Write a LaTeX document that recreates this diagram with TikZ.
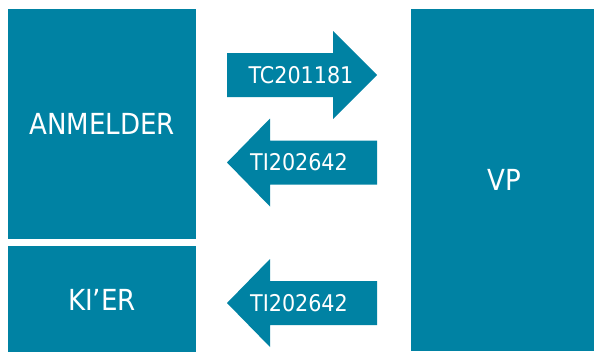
\documentclass[tikz,border=0pt]{standalone}
\usepackage{fontspec}
\setmainfont{DejaVu Sans Condensed}
\definecolor{vpteal}{HTML}{0082A3}
\tikzset{
  blok/.style={fill=vpteal, text=white, inner sep=0pt, font=\fontsize{29}{34}\selectfont},
  pijltxt/.style={text=white, inner sep=0pt, font=\fontsize{23}{27}\selectfont}
}
\begin{document}
\begin{tikzpicture}[x=1pt, y=-1pt, line join=round]
\def\ta{227} \def\tb{377} \def\kop{333} % pijl: staart, punt, kop
\useasboundingbox (0,0) rectangle (594,351);
\clip (0,0) rectangle (594,351);
% blokken
\node[blok, minimum width=188pt, minimum height=230pt] (anm) at (102,124) {ANMELDER};
\node[blok, minimum width=188pt, minimum height=108pt] (kier) at (102,300) {KI’ER};
\node[blok, minimum width=186pt, minimum height=342pt] (vp) at (504,180) {VP};
% pijl naar rechts
\fill[vpteal] (\ta,53)--(\kop,53)--(\kop,31)--(\tb,75)--(\kop,119)--(\kop,97)--(\ta,97)--cycle;
\node[pijltxt] (tc) at (301,75) {TC201181};
% pijlen naar links
\fill[vpteal] (\tb,140.5)--(270,140.5)--(270,118.5)--(\ta,162.5)--(270,206.5)--(270,184.5)--(\tb,184.5)--cycle;
\node[pijltxt] (ti) at (299,162.5) {TI202642};
\fill[vpteal] (\tb,281)--(270,281)--(270,259)--(\ta,303)--(270,347)--(270,325)--(\tb,325)--cycle;
\node[pijltxt] (tik) at (299,303) {TI202642};
\end{tikzpicture}
\end{document}
